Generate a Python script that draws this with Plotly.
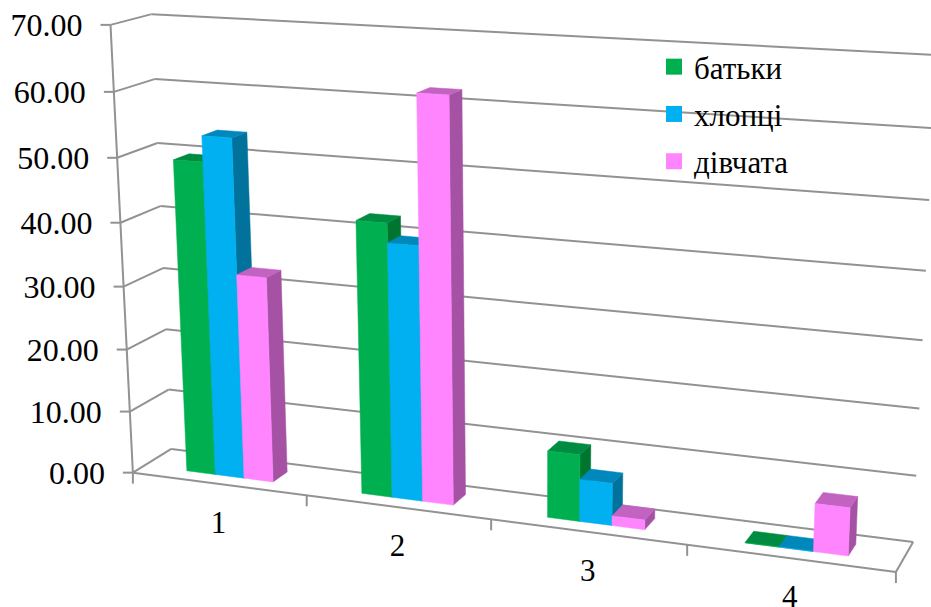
import numpy as np
import plotly.graph_objects as go

# ---- data ----
categories = ["1", "2", "3", "4"]
series_names = ["батьки", "хлопці", "дівчата"]
batky = [49.5, 42.5, 10.3, 0.0]
khloptsi = [53.5, 39.5, 6.5, 0.0]
divchata = [32.5, 62.0, 1.5, 7.2]
value_ticks = [0, 10, 20, 30, 40, 50, 60, 70]
value_labels = ["0.00", "10.00", "20.00", "30.00", "40.00", "50.00", "60.00", "70.00"]
value_max = 70

# ---- styles ----
FONT = "Liberation Serif"
GRID = "#929292"
front_colors = ["#00B050", "#00B0F0", "#FF85FF"]
top_colors = ["#008C40", "#0088BC", "#C263C2"]
side_colors = ["#007530", "#00729C", "#A552A5"]
bar_span = (0.25, 0.75)   # share of a category's width used by its bars
bar_depth = (0.30, 0.70)  # share of the floor depth used by the bars

# ---- 3-D view: (width share, value share, depth share) -> page position ----
view_world = [(0, 0, 0), (0, 0, 1), (1, 0, 1), (1, 0, 0),
              (0, 1, 0), (0, 1, 1), (1, 1, 1)]
view_page = [(133, 473), (171, 449), (913, 542), (896, 572),
             (110, 25), (152, 14), (936, 55)]


def fit_camera(world, page):
    rows, rhs = [], []
    for (X, Y, Z), (u, v) in zip(world, page):
        rows.append([X, Y, Z, 1, 0, 0, 0, 0, -u * X, -u * Y, -u * Z])
        rhs.append(u)
        rows.append([0, 0, 0, 0, X, Y, Z, 1, -v * X, -v * Y, -v * Z])
        rhs.append(v)
    # the seven corners leave one freedom: the tick-level spacing on the left edge fixes it
    for (X, Y, Z), (u, v) in [((0, 1 / 7, 0), (130, 411)), ((0, 6 / 7, 0), (114, 92))]:
        rows.append([X, Y, Z, 1, 0, 0, 0, 0, -u * X, -u * Y, -u * Z])
        rhs.append(u)
        rows.append([0, 0, 0, 0, X, Y, Z, 1, -v * X, -v * Y, -v * Z])
        rhs.append(v)
    sol = np.linalg.lstsq(np.array(rows, float), np.array(rhs, float), rcond=None)[0]
    return np.append(sol, 1.0).reshape(3, 4)


CAM = fit_camera(view_world, view_page)


def project(x, value, z):
    p = CAM @ np.array([x, value / value_max, z, 1.0])
    return p[0] / p[2], p[1] / p[2]


def poly(points):
    pts = [project(*p) for p in points]
    pts.append(pts[0])
    return [p[0] for p in pts], [p[1] for p in pts]


def lines_trace(segments, width=2.0):
    xs, ys = [], []
    for a, b in segments:
        xs += [a[0], b[0], None]
        ys += [a[1], b[1], None]
    return go.Scatter(x=xs, y=ys, mode="lines", line=dict(color=GRID, width=width),
                      hoverinfo="skip", showlegend=False)


fig = go.Figure()

# walls, floor and axes
n_cat = len(categories)
segs = []
for v in value_ticks:
    segs.append((project(0, v, 0), project(0, v, 1)))
    segs.append((project(0, v, 1), project(1, v, 1)))
    fx, fy = project(0, v, 0)
    segs.append(((fx - 10, fy), (fx, fy)))
segs.append((project(0, 0, 0), project(0, value_max, 0)))
segs.append((project(0, 0, 0), project(1, 0, 0)))
segs.append((project(1, 0, 0), project(1, 0, 1)))
for i in range(n_cat + 1):
    tx, ty = project(i / n_cat, 0, 0)
    segs.append(((tx, ty), (tx, ty + 11)))
fig.add_trace(lines_trace(segs))

# bars
series_values = [batky, khloptsi, divchata]
x0_share, x1_share = bar_span
z0, z1 = bar_depth
for c in range(n_cat):
    for s, vals in enumerate(series_values):
        v = vals[c]
        a = (c + x0_share + (x1_share - x0_share) * s / 3) / n_cat
        b = (c + x0_share + (x1_share - x0_share) * (s + 1) / 3) / n_cat
        faces = [
            ([(b, 0, z0), (b, 0, z1), (b, v, z1), (b, v, z0)], side_colors[s]),
            ([(a, v, z0), (b, v, z0), (b, v, z1), (a, v, z1)], top_colors[s]),
            ([(a, 0, z0), (b, 0, z0), (b, v, z0), (a, v, z0)], front_colors[s]),
        ]
        for pts, col in faces:
            xs, ys = poly(pts)
            fig.add_trace(go.Scatter(x=xs, y=ys, mode="lines", fill="toself", fillcolor=col,
                                     line=dict(color=col, width=0.5),
                                     hoverinfo="skip", showlegend=False))

# value labels
lab = [project(0, v, 0) for v in value_ticks]
fig.add_trace(go.Scatter(x=[p[0] - 28 for p in lab], y=[p[1] + 3 for p in lab],
                         mode="text", text=value_labels, textposition="middle left",
                         textfont=dict(family=FONT, size=32, color="#000000"),
                         hoverinfo="skip", showlegend=False))

# category labels
cat = [project((i + 0.5) / n_cat, 0, 0) for i in range(n_cat)]
fig.add_trace(go.Scatter(x=[p[0] for p in cat], y=[p[1] + 41 for p in cat],
                         mode="text", text=categories, textposition="middle center",
                         textfont=dict(family=FONT, size=31, color="#000000"),
                         hoverinfo="skip", showlegend=False))

# legend
for name, col in zip(series_names, front_colors):
    fig.add_trace(go.Scatter(x=[None], y=[None], mode="markers", name=name, legendgroup=name,
                             marker=dict(symbol="square", size=16, color=col)))

fig.update_layout(
    width=931, height=607, margin=dict(l=0, r=0, t=0, b=0),
    paper_bgcolor="#FFFFFF", plot_bgcolor="#FFFFFF",
    xaxis=dict(range=[0, 931], visible=False, fixedrange=True),
    yaxis=dict(range=[607, 0], visible=False, fixedrange=True),
    legend=dict(x=654 / 931, y=1 - 40 / 607, xanchor="left", yanchor="top",
                bgcolor="rgba(0,0,0,0)", tracegroupgap=4, traceorder="grouped",
                font=dict(family=FONT, size=31, color="#000000")),
)
fig.write_html("out.html", config={"displayModeBar": False},
               post_script="document.body.style.margin='0';document.documentElement.style.overflow='hidden';")
